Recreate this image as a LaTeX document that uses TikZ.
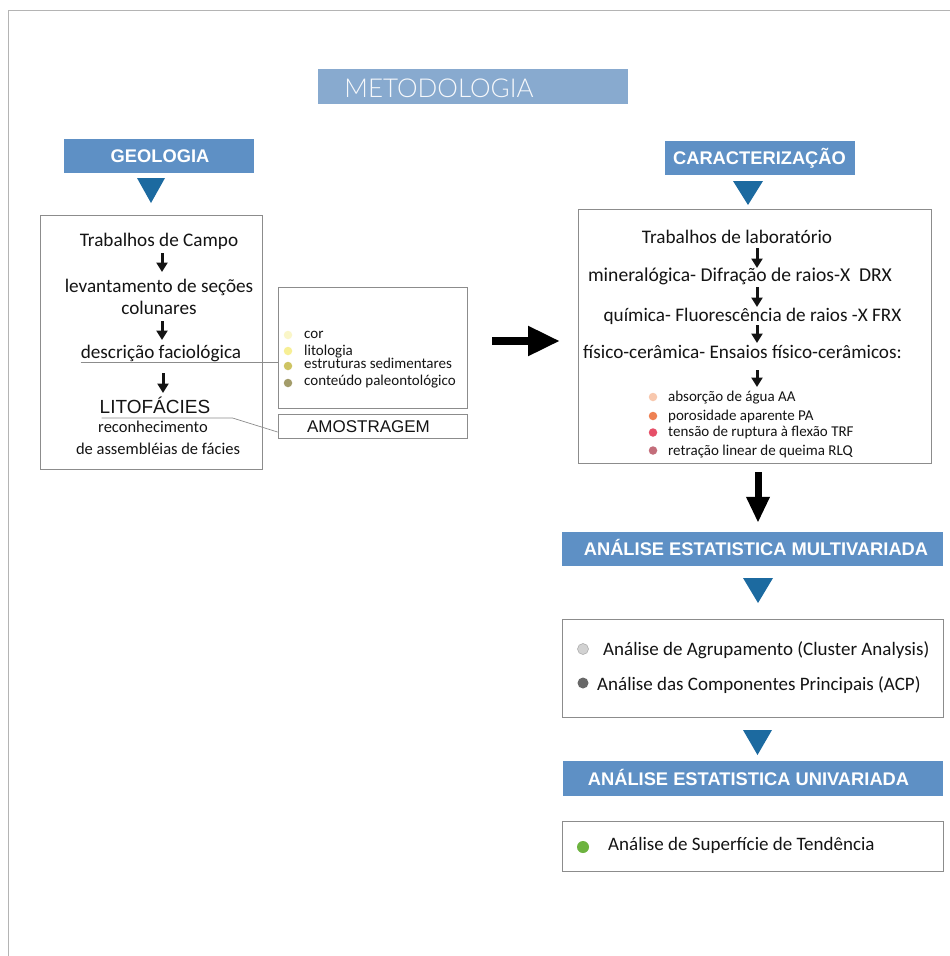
\documentclass[tikz,border=0pt]{standalone}
\usepackage{fontspec}
\setmainfont{Carlito}
\newfontfamily\arialfont{Liberation Sans}
\newfontfamily\thinfont{Lato Light}
\usetikzlibrary{arrows.meta,calc}

\definecolor{barlight}{HTML}{88AACF}
\definecolor{barblue}{HTML}{5E90C5}
\definecolor{tridark}{HTML}{1C6AA0}
\definecolor{boxline}{HTML}{8C8C8C}
\definecolor{frameline}{HTML}{B4B4B4}
\definecolor{inktext}{HTML}{141414}
\definecolor{dotA}{HTML}{FAF6C8}
\definecolor{dotB}{HTML}{F7EF95}
\definecolor{dotC}{HTML}{CEC463}
\definecolor{dotD}{HTML}{A39C6A}
\definecolor{dotE}{HTML}{F8C8AE}
\definecolor{dotF}{HTML}{EE8153}
\definecolor{dotG}{HTML}{E64F68}
\definecolor{dotH}{HTML}{C36D7A}
\definecolor{dotI}{HTML}{D2D2D2}
\definecolor{dotJ}{HTML}{686868}
\definecolor{dotK}{HTML}{6DB33F}

\begin{document}
\begin{tikzpicture}[x=1pt,y=-1pt,
  hdrbar/.style={fill=barblue, inner sep=0, minimum height=34},
  hdrtext/.style={text=white, font=\arialfont\bfseries\fontsize{18.3}{20}\selectfont, inner sep=0, anchor=base},
  panel/.style={draw=boxline, line width=0.8pt, fill=white, inner sep=0},
  txt/.style={font=\fontsize{19.2}{22}\selectfont, text=inktext, inner sep=0, anchor=base},
  smalltxt/.style={font=\fontsize{16.5}{19}\selectfont, text=inktext, inner sep=0, anchor=base},
  item/.style={font=\fontsize{15}{17}\selectfont, text=inktext, inner sep=0, anchor=base west},
  bigitem/.style={font=\fontsize{19}{22}\selectfont, text=inktext, inner sep=0, anchor=base west},
  dot/.style={circle, inner sep=0, minimum size=8.5pt},
  bigdot/.style={circle, inner sep=0, minimum size=11pt},
  tri/.style={fill=tridark},
  smallarrow/.style={line width=3pt, -{Triangle[width=11pt,length=9.5pt]}, inktext},
  bigarrow/.style={line width=8pt, -{Triangle[width=28pt,length=32pt]}, black},
  downarrow/.style={line width=7pt, -{Triangle[width=22pt,length=26pt]}, black},
  link/.style={draw=boxline, line width=0.7pt},
]
\useasboundingbox (0,0) rectangle (950,956);

% page frame
\draw[frameline, line width=1.6pt] (950,10.5) -- (8.5,10.5) -- (8.5,956);

% title
\node[fill=barlight, inner sep=0, minimum width=310, minimum height=35] (title) at (473,86.5) {};
\node[font=\thinfont\fontsize{26}{28}\selectfont, text=white!92!barlight, inner sep=0, anchor=base] (titletext) at (439,97) {METODOLOGIA};

% ---------- geology column ----------
\node[hdrbar, minimum width=190] (geo) at (159,156) {};
\node[hdrtext] (geotext) at (160,162.8) {GEOLOGIA};
\fill[tri] (137,178) -- (165,178) -- (151,203) -- cycle;

\node[panel, minimum width=222, minimum height=254] (geobox) at (151,342) {};
\node[panel, minimum width=189, minimum height=121] (legend) at (372.5,347.5) {};
\node[panel, minimum width=189, minimum height=24] (amost) at (372.5,426) {};
\node[font=\arialfont\fontsize{17}{19}\selectfont, text=inktext, inner sep=0, anchor=base] (amosttext) at (368.5,432.5) {AMOSTRAGEM};

\node[txt] (g1) at (159,246.7) {Trabalhos de Campo};
\node[txt] (g2) at (159,292) {levantamento de seções};
\node[txt] (g2b) at (159,314) {colunares};
\node[txt] (g3) at (161,358) {descrição faciológica};
\node[font=\arialfont\fontsize{19}{21}\selectfont, text=inktext, inner sep=0, anchor=base] (lito) at (155,413) {LITOFÁCIES};
\node[smalltxt] (g4) at (153,432) {reconhecimento};
\node[smalltxt] (g5) at (158,454) {de assembléias de fácies};

\draw[smallarrow] ($(g1.base)+(3,6.3)$) -- ++(0,19);
\draw[smallarrow] ($(g2b.base)+(3,7)$) -- ++(0,19);
\draw[smallarrow] ($(g3.base)+(2,15)$) -- ++(0,20);

% leader lines to the side boxes
\draw[link] ($(g3.base west)+(0,4)$) coordinate (u1) -- (u1 -| legend.west);
\draw[link] ($(lito.base west)+(2,5)$) coordinate (u2) -- ++(131,0) -- ([yshift=-6pt]amost.west);

% legend of field attributes
\node[dot, fill=dotA] (da) at (288,335) {};
\node[dot, fill=dotB] (db) at (288,351) {};
\node[dot, fill=dotC] (dc) at (288,366) {};
\node[dot, fill=dotD] (dd) at (288,383) {};
\node[item] (la) at (304,338.3) {cor};
\node[item] (lb) at (304,355) {litologia};
\node[item] (lc) at (304,368.3) {estruturas sedimentares};
\node[item] (ld) at (304,385) {conteúdo paleontológico};

% transition arrow
\coordinate (bigL) at (492,341);
\coordinate (bigR) at (560,341);
\draw[bigarrow] (bigL) -- (bigR);

% ---------- characterisation column ----------
\node[hdrbar, minimum width=190] (car) at (760,158) {};
\node[hdrtext] (cartext) at (759.5,164.8) {CARACTERIZAÇÃO};
\fill[tri] (733,181) -- (763,181) -- (748,205) -- cycle;

\node[panel, minimum width=353, minimum height=254] (carbox) at (754.5,336) {};
\coordinate (ax) at (757,0);
\node[txt] (c1) at (737,243.3) {Trabalhos de laboratório};
\node[txt, font=\fontsize{19.6}{22}\selectfont] (c2) at (740,281.7) {mineralógica- Difração de raios-X\ \ DRX};
\node[txt] (c3) at (752.5,321.7) {química- Fluorescência de raios -X FRX};
\node[txt] (c4) at (742.5,358.3) {físico-cerâmica- Ensaios físico-cerâmicos:};

\draw[smallarrow] (c1.base -| ax) ++(0,4.7) -- ++(0,20);
\draw[smallarrow] (c2.base -| ax) ++(0,5.3) -- ++(0,20);
\draw[smallarrow] (c3.base -| ax) ++(0,3.3) -- ++(0,18);
\draw[smallarrow] (c4.base -| ax) ++(0,11.7) -- ++(0,17);

\node[dot, fill=dotE] (de) at (653,397) {};
\node[dot, fill=dotF] (df) at (653,416) {};
\node[dot, fill=dotG] (dg) at (653,432.5) {};
\node[dot, fill=dotH] (dh) at (653,450.5) {};
\node[item] (le) at (668,401.7) {absorção de água AA};
\node[item] (lf) at (668,420) {porosidade aparente PA};
\node[item] (lg) at (668,436.7) {tensão de ruptura à flexão TRF};
\node[item] (lh) at (668,455) {retração linear de queima RLQ};

% ---------- statistics ----------
\node[hdrbar, minimum width=381] (multi) at (752.5,549) {};
\node[hdrtext] (multitext) at (756,555.8) {ANÁLISE ESTATISTICA MULTIVARIADA};
\draw[downarrow, shorten <=9pt, shorten >=9pt] ([xshift=3.5pt]carbox.south) -- ([xshift=3.5pt]carbox.south |- multi.north);
\fill[tri] (743,578) -- (773,578) -- (758,603) -- cycle;

\node[panel, minimum width=381, minimum height=98] (multibox) at (752.5,668) {};
\node[bigdot, fill=dotI, draw=gray!70, line width=0.5pt] (di) at (583,649) {};
\node[bigdot, fill=dotJ] (dj) at (583,683) {};
\node[bigitem] (li) at (603,655) {Análise de Agrupamento (Cluster Analysis)};
\node[bigitem] (lj) at (597,690) {Análise das Componentes Principais (ACP)};

\fill[tri] (743,730) -- (772,730) -- (757.5,755) -- cycle;
\node[hdrbar, minimum width=380, minimum height=35] (uni) at (753,778.5) {};
\node[hdrtext] (unitext) at (748.5,785.3) {ANÁLISE ESTATISTICA UNIVARIADA};

\node[panel, minimum width=381, minimum height=50] (unibox) at (752.5,846) {};
\node[bigdot, minimum size=12pt, fill=dotK] (dk) at (583,847) {};
\node[bigitem] (lk) at (608,850) {Análise de Superfície de Tendência};

\end{tikzpicture}
\end{document}
